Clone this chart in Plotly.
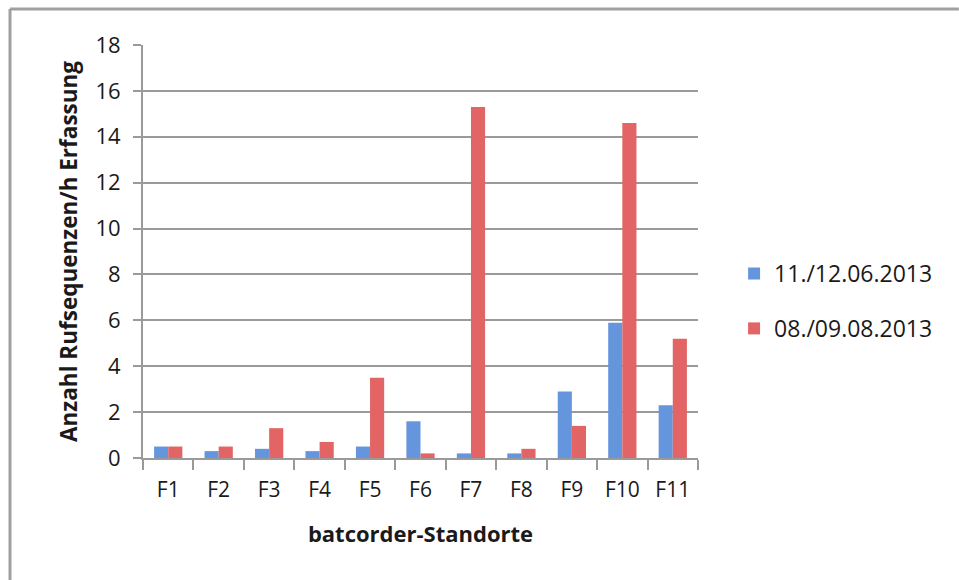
import plotly.graph_objects as go

# Standorte und Erfassungswerte (Rufsequenzen pro Stunde)
standorte = ["F1", "F2", "F3", "F4", "F5", "F6", "F7", "F8", "F9", "F10", "F11"]
juni = [0.5, 0.3, 0.4, 0.3, 0.5, 1.6, 0.2, 0.2, 2.9, 5.9, 2.3]
august = [0.5, 0.5, 1.3, 0.7, 3.5, 0.2, 15.3, 0.4, 1.4, 14.6, 5.2]
serien = ["11./12.06.2013", "08./09.08.2013"]
y_ticks = [0, 2, 4, 6, 8, 10, 12, 14, 16, 18]

FONT = "Open Sans"
GRID = "#9a9a9a"
TEXT = "#1a1a1a"

fig = go.Figure()
fig.add_trace(go.Bar(
    x=standorte, y=juni, name=serien[0], legendgroup="a",
    marker=dict(color="#6596dd", line=dict(width=0)),
))
fig.add_trace(go.Bar(
    x=standorte, y=august, name=serien[1], legendgroup="b",
    marker=dict(color="#e26464", line=dict(width=0)),
))

fig.update_layout(
    width=959, height=580,
    margin=dict(l=143, r=261, t=45, b=122),
    paper_bgcolor="white", plot_bgcolor="white",
    barmode="group", bargap=0.44, bargroupgap=0,
    font=dict(family=FONT, size=21, color=TEXT),
    showlegend=True,
    legend=dict(
        x=1.065, y=0.38, xanchor="left", yanchor="middle",
        font=dict(family=FONT, size=23, color=TEXT),
        itemsizing="constant", tracegroupgap=22, itemwidth=30,
        bgcolor="rgba(0,0,0,0)",
    ),
    xaxis=dict(
        showline=True, linecolor=GRID, linewidth=2,
        ticks="outside", tickson="boundaries", ticklen=10,
        tickcolor=GRID, tickwidth=2,
        showgrid=False, ticklabelstandoff=12,
        tickfont=dict(family=FONT, size=21, color=TEXT),
        title=dict(text="<b>batcorder-Standorte</b>", standoff=24,
                   font=dict(family=FONT, size=22, color=TEXT)),
    ),
    yaxis=dict(
        range=[0, 18], tickvals=y_ticks,
        showline=True, linecolor=GRID, linewidth=2,
        ticks="outside", ticklen=8, tickcolor=GRID, tickwidth=2,
        showgrid=True, gridcolor=GRID, gridwidth=2,
        zeroline=False, ticklabelstandoff=8,
        tickfont=dict(family=FONT, size=22, color=TEXT),
        title=dict(text="<b>Anzahl Rufsequenzen/h Erfassung</b>", standoff=12,
                   font=dict(family=FONT, size=22.5, color=TEXT)),
    ),
    shapes=[
        # Rahmen um die Diagrammfläche
        dict(type="line", xref="paper", yref="paper",
             x0=-0.2396, x1=1.47, y0=1.087, y1=1.087,
             line=dict(color="#a0a0a0", width=3)),
        dict(type="line", xref="paper", yref="paper",
             x0=-0.2396, x1=-0.2396, y0=1.087, y1=-0.32,
             line=dict(color="#a0a0a0", width=3)),
    ],
)

fig.write_html("out.html")
